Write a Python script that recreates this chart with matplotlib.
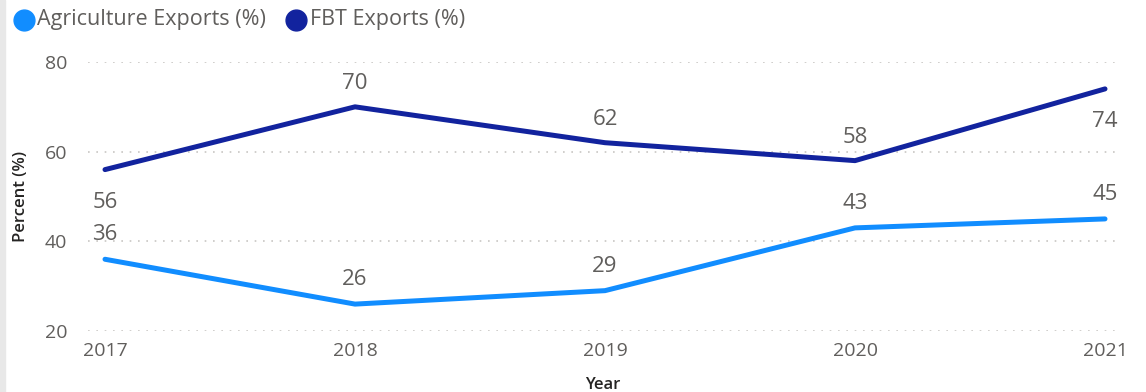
import matplotlib.pyplot as plt
from matplotlib.lines import Line2D
from matplotlib.patches import Rectangle

years = [2017, 2018, 2019, 2020, 2021]
agriculture = [36, 26, 29, 43, 45]
fbt = [56, 70, 62, 58, 74]
yticks = [20, 40, 60, 80]
series_names = ['Agriculture Exports (%)', 'FBT Exports (%)']

AGRI_COLOR = '#118DFF'
FBT_COLOR = '#12239E'
TEXT_COLOR = '#605E5C'
W, H = 1146, 392

plt.rcParams['font.family'] = ['Open Sans', 'DejaVu Sans']

fig = plt.figure(figsize=(W / 100, H / 100), dpi=100)
ax = fig.add_axes([88 / W, 1 - 331 / H, (1117 - 88) / W, (331 - 62) / H])

# thin panel border on the left edge
fig.patches.append(Rectangle((0, 0), 5 / W, 1, transform=fig.transFigure,
                             color='#E8E8E8', zorder=0))

for vals, col in ((agriculture, AGRI_COLOR), (fbt, FBT_COLOR)):
    ax.plot(years, vals, color=col, lw=3.6, solid_capstyle='round',
            solid_joinstyle='round', clip_on=False, zorder=3)

# data labels: FBT below at the ends, everything else above
for i, (yr, v) in enumerate(zip(years, fbt)):
    below = i in (0, len(years) - 1)
    ax.annotate(f'{v}', (yr, v), xytext=(0, -23.5 if below else 16.5),
                textcoords='offset points', ha='center', va='center',
                fontsize=16, color=TEXT_COLOR)
for yr, v in zip(years, agriculture):
    ax.annotate(f'{v}', (yr, v), xytext=(0, 17.5), textcoords='offset points',
                ha='center', va='center', fontsize=16, color=TEXT_COLOR)

ax.set_xlim(2017 - 17 / 250, 2021 + 12 / 250)
ax.set_ylim(20, 80)
ax.set_yticks(yticks)
ax.set_xticks(years)
ax.set_xticklabels([str(y) for y in years])
ax.grid(axis='y', color='#C8C6C4', linestyle=(0, (1, 4)), lw=1.2)
ax.set_axisbelow(True)
for s in ax.spines.values():
    s.set_visible(False)
ax.tick_params(length=0, labelsize=14, colors=TEXT_COLOR)
ax.tick_params(axis='y', pad=15)
ax.tick_params(axis='x', pad=8)

ax.set_ylabel('Percent (%)', fontsize=12, color='#252423', fontweight='semibold',
              labelpad=11)
ax.set_xlabel('Year', fontsize=12, color='#252423', fontweight='semibold',
              labelpad=12)

# legend row along the top
legend_items = [(24, 37, AGRI_COLOR), (296, 310, FBT_COLOR)]
for name, (cx, tx, col) in zip(series_names, legend_items):
    fig.add_artist(Line2D([cx / W], [1 - 19.5 / H], marker='o', ms=15, ls='',
                          color=col, transform=fig.transFigure))
    fig.text(tx / W, 1 - 19.5 / H, name, ha='left', va='center',
             fontsize=15.5, color=TEXT_COLOR)

fig.savefig('out.png', dpi=100)
